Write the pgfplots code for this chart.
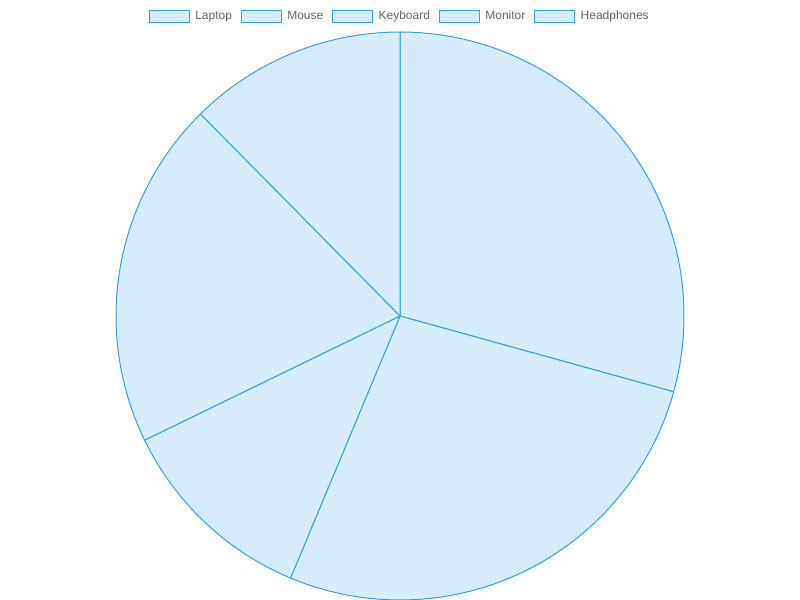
\documentclass[border=0pt]{standalone}
\usepackage{fontspec}
\setmainfont{Liberation Sans}
\usepackage{pgfplots}
\usepackage{pgfplotstable}
\pgfplotsset{compat=1.18}
\definecolor{pieFill}{RGB}{215,236,250}
\definecolor{pieLine}{RGB}{54,162,235}
\definecolor{txtgray}{RGB}{102,102,102}
\tikzset{wedge/.style={fill=pieFill, draw=pieLine, line width=0.75pt, line join=round}}
\pgfplotsset{pielegend/.style={legend image code/.code={\draw[fill=pieFill, draw=pieLine, line width=0.75pt] (0pt,-4.6pt) rectangle (30pt,4.6pt);}}}
\pgfplotstableread{
label value
Laptop 29.3
Mouse 27.0
Keyboard 11.5
Monitor 19.8
Headphones 12.4
}\piedata
\begin{document}
\begin{tikzpicture}
\pgfplotstablegetelem{0}{value}\of\piedata \let\vA\pgfplotsretval
\pgfplotstablegetelem{1}{value}\of\piedata \let\vB\pgfplotsretval
\pgfplotstablegetelem{2}{value}\of\piedata \let\vC\pgfplotsretval
\pgfplotstablegetelem{3}{value}\of\piedata \let\vD\pgfplotsretval
\pgfplotstablegetelem{4}{value}\of\piedata \let\vE\pgfplotsretval
\pgfmathsetmacro\tot{\vA+\vB+\vC+\vD+\vE}
\pgfmathsetmacro\aA{90}
\pgfmathsetmacro\aB{\aA-360*\vA/\tot}
\pgfmathsetmacro\aC{\aB-360*\vB/\tot}
\pgfmathsetmacro\aD{\aC-360*\vC/\tot}
\pgfmathsetmacro\aE{\aD-360*\vD/\tot}
\pgfmathsetmacro\aF{\aE-360*\vE/\tot}
\begin{axis}[
  scale only axis, width=600pt, height=450pt,
  xmin=0, xmax=800, ymin=0, ymax=600,
  hide axis, clip=false,
  legend columns=5,
  legend style={draw=none, fill=none, at={(axis cs:400,592)}, anchor=north,
    font=\fontsize{9}{10}\selectfont, text=txtgray, inner sep=0pt,
    /tikz/every odd column/.append style={column sep=2.25pt},
    /tikz/every even column/.append style={column sep=4.5pt}},
]
\addlegendimage{pielegend}\addlegendentry{Laptop}
\addlegendimage{pielegend}\addlegendentry{Mouse}
\addlegendimage{pielegend}\addlegendentry{Keyboard}
\addlegendimage{pielegend}\addlegendentry{Monitor}
\addlegendimage{pielegend}\addlegendentry{Headphones}
\draw[wedge] (axis cs:400,284) -- ++(\aA:213pt) arc[start angle=\aA, end angle=\aB, radius=213pt] -- cycle;
\draw[wedge] (axis cs:400,284) -- ++(\aB:213pt) arc[start angle=\aB, end angle=\aC, radius=213pt] -- cycle;
\draw[wedge] (axis cs:400,284) -- ++(\aC:213pt) arc[start angle=\aC, end angle=\aD, radius=213pt] -- cycle;
\draw[wedge] (axis cs:400,284) -- ++(\aD:213pt) arc[start angle=\aD, end angle=\aE, radius=213pt] -- cycle;
\draw[wedge] (axis cs:400,284) -- ++(\aE:213pt) arc[start angle=\aE, end angle=\aF, radius=213pt] -- cycle;
\end{axis}
\pgfresetboundingbox
\path[use as bounding box] (current axis.south west) rectangle (current axis.north east);
\end{tikzpicture}
\end{document}
